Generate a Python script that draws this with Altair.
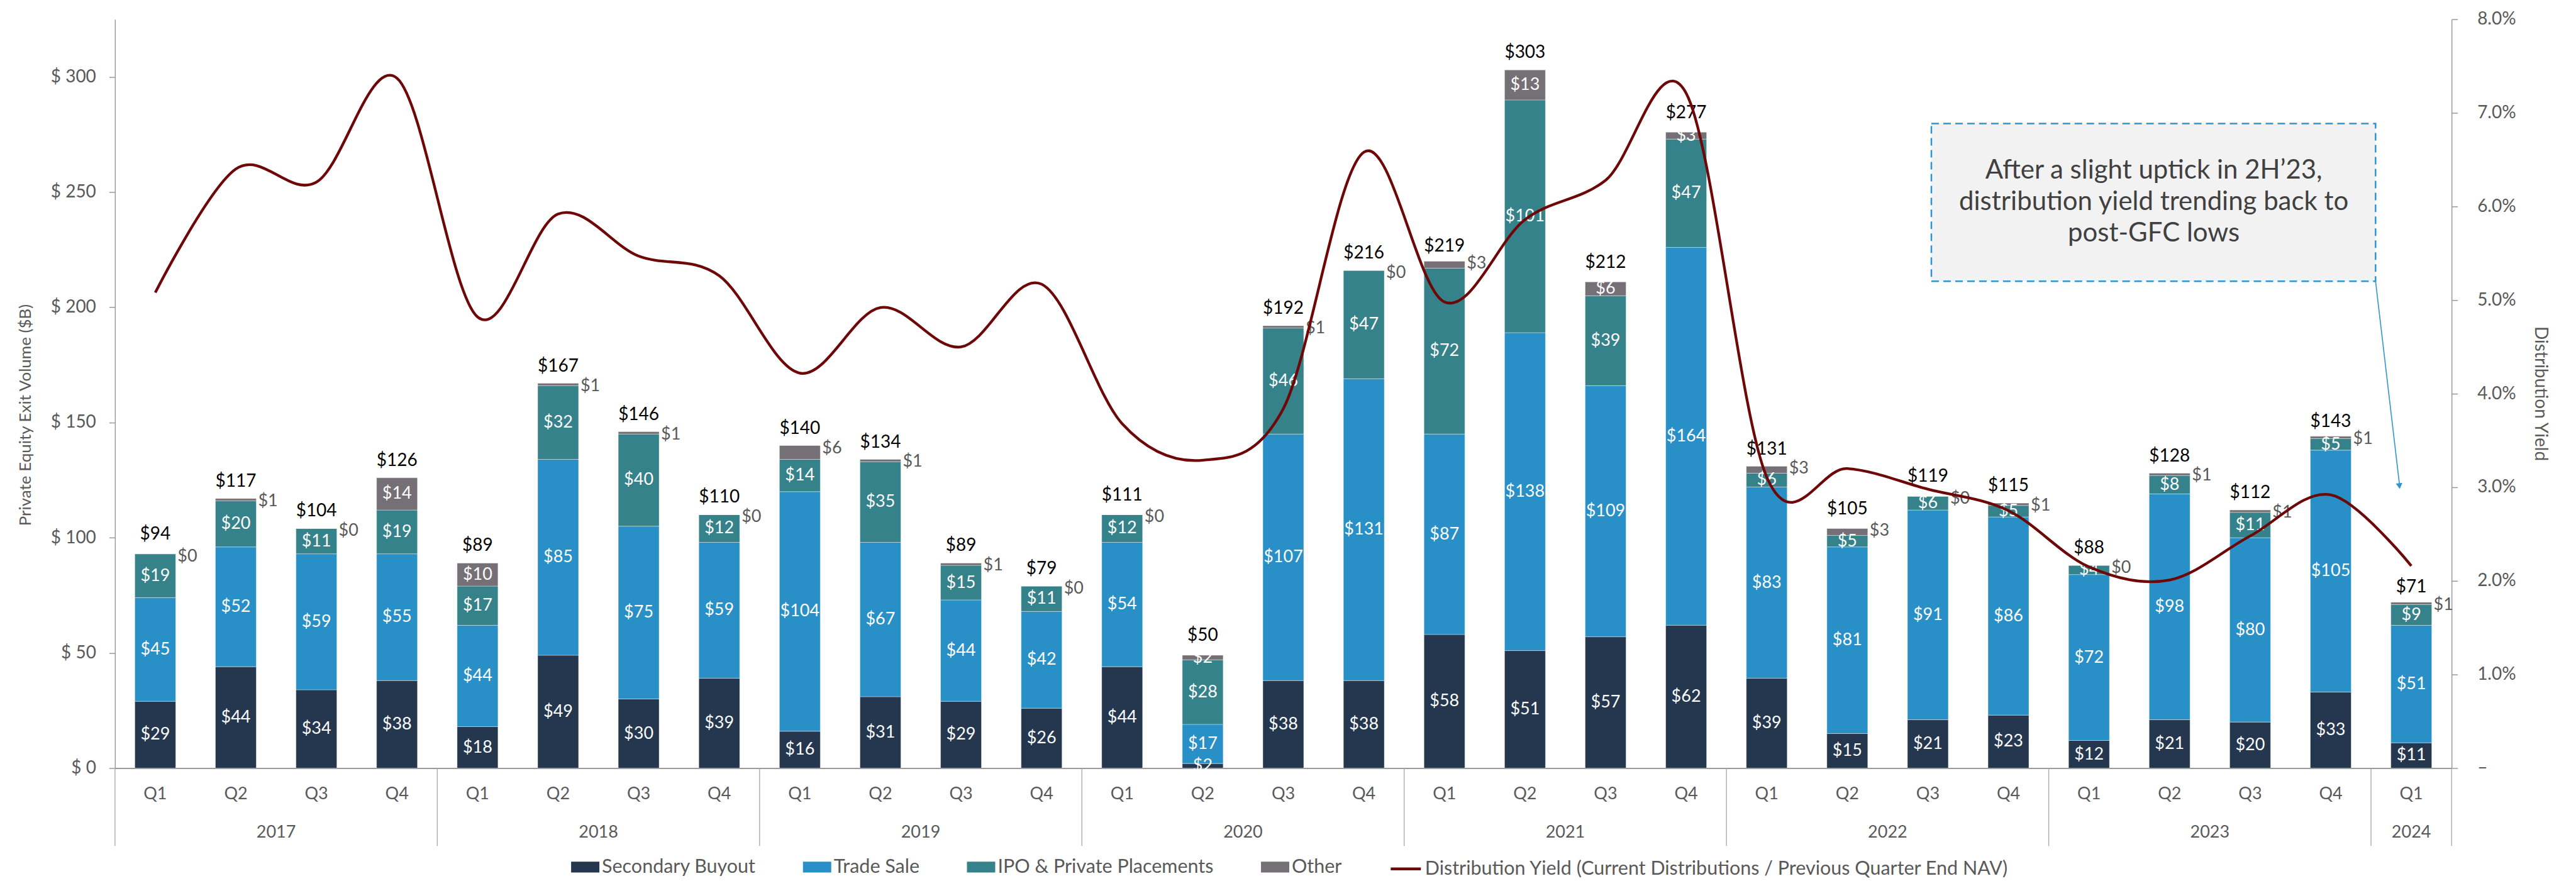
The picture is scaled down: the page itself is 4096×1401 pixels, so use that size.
import altair as alt
import pandas as pd

# ---------------- data ----------------
quarter_labels = ["Q1", "Q2", "Q3", "Q4"] * 7 + ["Q1"]
year_labels = [y for y in ["2017", "2018", "2019", "2020", "2021", "2022", "2023"] for _ in range(4)] + ["2024"]

secondary = [29, 44, 34, 38, 18, 49, 30, 39, 16, 31, 29, 26, 44, 2, 38, 38,
             58, 51, 57, 62, 39, 15, 21, 23, 12, 21, 20, 33, 11]
trade_sale = [45, 52, 59, 55, 44, 85, 75, 59, 104, 67, 44, 42, 54, 17, 107, 131,
              87, 138, 109, 164, 83, 81, 91, 86, 72, 98, 80, 105, 51]
ipo = [19, 20, 11, 19, 17, 32, 40, 12, 14, 35, 15, 11, 12, 28, 46, 47,
       72, 101, 39, 47, 6, 5, 6, 5, 4, 8, 11, 5, 9]
other = [0, 1, 0, 14, 10, 1, 1, 0, 6, 1, 1, 0, 0, 2, 1, 0,
         3, 13, 6, 3, 3, 3, 0, 1, 0, 1, 1, 1, 1]
totals = [94, 117, 104, 126, 89, 167, 146, 110, 140, 134, 89, 79, 111, 50, 192, 216,
          219, 303, 212, 277, 131, 105, 119, 115, 88, 128, 112, 143, 71]
dist_yield_pct = [5.08, 6.40, 6.26, 7.37, 4.82, 5.92, 5.47, 5.26, 4.22, 4.92, 4.50, 5.17,
                  3.68, 3.29, 3.84, 6.58, 4.98, 5.86, 6.28, 7.21, 3.11, 3.20, 2.98, 2.75,
                  2.15, 2.01, 2.48, 2.92, 2.16]

categories = ["Secondary Buyout", "Trade Sale", "IPO & Private Placements", "Other"]
cat_colors = ["#24374F", "#2990C7", "#36828A", "#757076"]
line_name = "Distribution Yield (Current Distributions / Previous Quarter End NAV)"
line_color = "#6E0707"
# quarters whose "Other" value label sits inside the segment
other_inside = ["2017 Q4", "2018 Q1", "2020 Q2", "2021 Q2", "2021 Q3", "2021 Q4"]

annotation_lines = ["After a slight uptick in 2H\u201923,",
                    "distribution yield trending back to",
                    "post-GFC lows"]

# ---------------- tables ----------------
n = len(quarter_labels)
series = [secondary, trade_sale, ipo, other]
rows = []
for i in range(n):
    key = f"{year_labels[i]} {quarter_labels[i]}"
    for k, cat in enumerate(categories):
        v = series[k][i]
        rows.append(dict(idx=i, key=key, category=cat, order=k, value=v,
                         label=f"${v}", inside=(cat != "Other") or (key in other_inside)))
long_df = pd.DataFrame(rows)

q_df = pd.DataFrame(dict(idx=list(range(n)), quarter=quarter_labels, year=year_labels,
                         total=totals, total_label=[f"${t}" for t in totals]))
line_df = pd.DataFrame(dict(idx=list(range(n)), yv=[v / 100 for v in dist_yield_pct],
                            series=[line_name] * n))
bounds = [i - 0.5 for i in range(n) if i == 0 or year_labels[i] != year_labels[i - 1]] + [n - 0.5]
sep_df = pd.DataFrame(dict(b=bounds))
one = pd.DataFrame(dict(a=[0]))

# ---------------- layout ----------------
W, H = 3719, 1192
HALF = 0.2535
FONT = "Lato"
GRAY_TXT = "#595959"
AXIS_GRAY = "#9A9A9A"

xscale = alt.Scale(domain=[-0.5, n - 0.5], nice=False, zero=False)
yscale = alt.Scale(domain=[0, 325], nice=False, zero=True)
xaxis = alt.Axis(labels=False, ticks=False, title=None, grid=False,
                 domainColor=AXIS_GRAY, domainWidth=2)
left_axis = alt.Axis(values=list(range(0, 301, 50)), labelExpr="'$ ' + datum.value",
                     title=None, grid=False, tickSize=9.5, tickColor=AXIS_GRAY, tickWidth=1.5,
                     domainColor=AXIS_GRAY, domainWidth=1.5, labelFont=FONT, labelFontSize=28,
                     labelColor=GRAY_TXT, labelPadding=21)
right_axis = alt.Axis(orient="right", values=[i / 100 for i in range(0, 9)],
                      labelExpr="datum.value == 0 ? '\u2013' : format(datum.value, '.1%')",
                      title=None, grid=False, tickSize=9.5, tickColor=AXIS_GRAY, tickWidth=1.5,
                      domainColor=AXIS_GRAY, domainWidth=1.5, labelFont=FONT, labelFontSize=28,
                      labelColor=GRAY_TXT, labelPadding=31, labelAlign="left")

fill_legend = alt.Legend(title=None, orient="none", legendX=726, legendY=1327, direction="horizontal",
                         symbolType="M-1,-0.38H1V0.38H-1Z", symbolSize=2025, symbolStrokeWidth=0,
                         symbolOpacity=1, labelFont=FONT, labelFontSize=30.5, labelColor=GRAY_TXT,
                         labelOffset=4, columnPadding=75, padding=0, labelLimit=1000)
line_legend = alt.Legend(title=None, orient="none", legendX=2028, legendY=1326, direction="horizontal",
                         symbolType="stroke", symbolSize=2304, symbolStrokeWidth=4.5,
                         labelFont=FONT, labelFontSize=30.5, labelColor=GRAY_TXT,
                         labelOffset=4, padding=0, labelLimit=2000)

stacked = alt.Chart(long_df).transform_stack(
    stack="value", groupby=["idx"], as_=["y0", "y1"],
    sort=[alt.SortField("order", order="ascending")]
).transform_calculate(
    x0=f"datum.idx - {HALF}", x1=f"datum.idx + {HALF}", ymid="(datum.y0 + datum.y1) / 2"
)

bars = stacked.mark_bar(stroke="#ffffff", strokeWidth=0.8, strokeOpacity=0.5).encode(
    x=alt.X("x0:Q", scale=xscale, axis=xaxis),
    x2="x1:Q",
    y=alt.Y("y0:Q", scale=yscale, axis=left_axis),
    y2="y1:Q",
    color=alt.Color("category:N", scale=alt.Scale(domain=categories, range=cat_colors),
                    legend=fill_legend),
)

labels_in = stacked.transform_filter("datum.inside").mark_text(
    color="#FFFFFF", font=FONT, fontSize=27, baseline="middle"
).encode(
    x=alt.X("idx:Q", scale=xscale, axis=xaxis),
    y=alt.Y("ymid:Q", scale=yscale, axis=left_axis),
    text="label:N",
)

labels_out = stacked.transform_filter("!datum.inside").mark_text(
    color=GRAY_TXT, font=FONT, fontSize=27, baseline="middle", align="left", dx=3, dy=4
).encode(
    x=alt.X("x1:Q", scale=xscale, axis=xaxis),
    y=alt.Y("y1:Q", scale=yscale, axis=left_axis),
    text="label:N",
)

total_text = alt.Chart(q_df).mark_text(
    color="#000000", font=FONT, fontSize=28, baseline="middle", dy=-27
).encode(
    x=alt.X("idx:Q", scale=xscale, axis=xaxis),
    y=alt.Y("total:Q", scale=yscale, axis=left_axis),
    text="total_label:N",
)

q_text = alt.Chart(q_df).mark_text(
    color=GRAY_TXT, font=FONT, fontSize=27, baseline="middle"
).encode(
    x=alt.X("idx:Q", scale=xscale, axis=xaxis),
    y=alt.value(H + 42),
    text="quarter:N",
)

year_text = alt.Chart(q_df).transform_aggregate(
    mid="mean(idx)", groupby=["year"]
).mark_text(
    color=GRAY_TXT, font=FONT, fontSize=27, baseline="middle"
).encode(
    x=alt.X("mid:Q", scale=xscale, axis=xaxis),
    y=alt.value(H + 103),
    text="year:N",
)

seps = alt.Chart(sep_df).mark_rule(color="#A6A6A6", strokeWidth=1.3).encode(
    x=alt.X("b:Q", scale=xscale, axis=xaxis),
    y=alt.value(H),
    y2=alt.value(H + 124),
)

ann_box = alt.Chart(one).mark_rect(
    fill="#F2F2F2", stroke="#2E95D3", strokeWidth=2.5, strokeDash=[12, 7]
).encode(x=alt.value(2891), x2=alt.value(3598), y=alt.value(166), y2=alt.value(417))

ann_text = alt.Chart(one).mark_text(
    font=FONT, fontSize=42, color="#404040", align="center", baseline="middle", lineHeight=50
).encode(x=alt.value(3245), y=alt.value(241), text=alt.value(annotation_lines))

arrow_line = alt.Chart(one).mark_rule(color="#2E95D3", strokeWidth=1.6).encode(
    x=alt.value(3598), x2=alt.value(3636), y=alt.value(417), y2=alt.value(740)
)
arrow_head = alt.Chart(one).mark_point(
    shape="triangle-down", filled=True, color="#2E95D3", size=110, angle=353, opacity=1
).encode(x=alt.value(3636), y=alt.value(743))

ytitle_left = alt.Chart(one).mark_text(
    font=FONT, fontSize=26, color=GRAY_TXT, angle=270, baseline="middle", align="center"
).encode(x=alt.value(-142), y=alt.value(630), text=alt.value("Private Equity Exit Volume ($B)"))

ytitle_right = alt.Chart(one).mark_text(
    font=FONT, fontSize=28, color=GRAY_TXT, angle=90, baseline="middle", align="center"
).encode(x=alt.value(3860), y=alt.value(596), text=alt.value("Distribution Yield"))

bar_group = alt.layer(seps, bars, labels_in, labels_out, total_text, q_text, year_text,
                      ann_box, ann_text, arrow_line, arrow_head, ytitle_left, ytitle_right)

line = alt.Chart(line_df).mark_line(interpolate="cardinal", strokeWidth=4.3).encode(
    x=alt.X("idx:Q", scale=xscale, axis=xaxis),
    y=alt.Y("yv:Q", scale=alt.Scale(domain=[0, 0.08], nice=False), axis=right_axis),
    stroke=alt.Stroke("series:N", scale=alt.Scale(domain=[line_name], range=[line_color]),
                      legend=line_legend),
)

chart = alt.layer(bar_group, line).resolve_scale(y="independent").properties(
    width=W, height=H,
    autosize=alt.AutoSizeParams(type="none"),
    padding={"left": 175, "top": 22, "right": 190, "bottom": 180},
    background="#FFFFFF",
).configure_view(stroke=None)

chart.save("out.html", embed_options={"renderer": "svg", "actions": False})
